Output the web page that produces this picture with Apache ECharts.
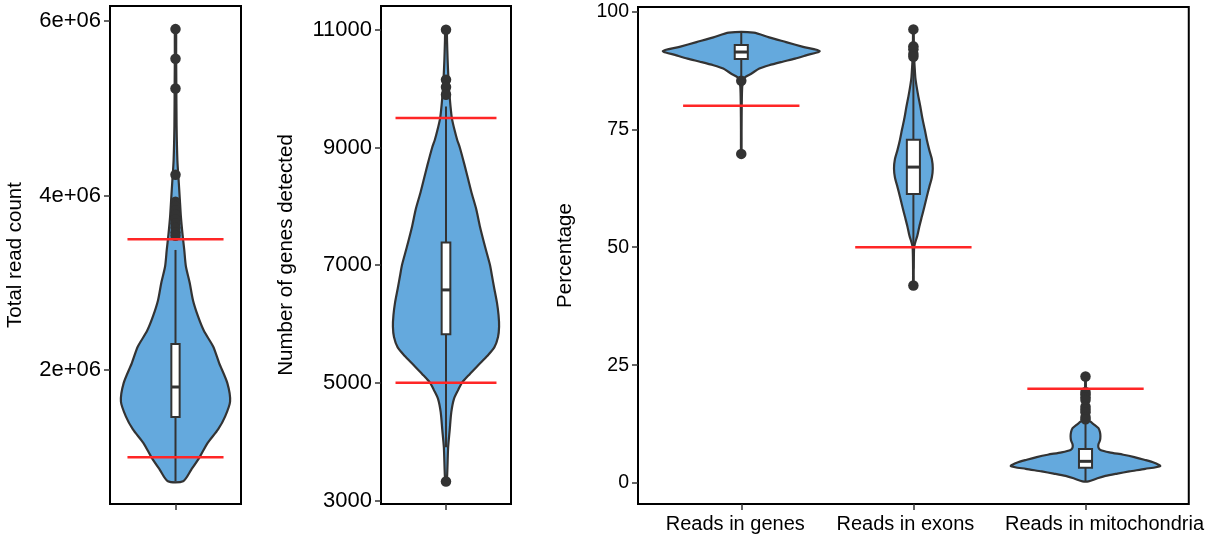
<!DOCTYPE html>
<html lang="en">
<head>
    <meta charset="utf-8">
    <title>QC violins</title>
    <script src="https://cdn.jsdelivr.net/npm/echarts@6/dist/echarts.min.js"></script>
</head>
<body style="margin:0">
    <div id="main" style="width:1207px;height:540px;"></div>

    <script type="text/javascript">
    // --- data ---
    // total read count
    var readValues = [726000, 860000, 1000000, 1166000, 1320000, 1470000, 1640000, 1850000, 2080000, 2270000, 2450000, 2620000, 2800000, 3000000, 3190000, 3380000, 3550000, 3750000, 3950000, 4150000, 4400000, 4800000, 5300000, 5600000, 5910000];
    var readDensity = [0.14, 0.29, 0.44, 0.59, 0.78, 0.91, 1.0, 0.95, 0.80, 0.69, 0.52, 0.41, 0.32, 0.26, 0.19, 0.16, 0.13, 0.10, 0.08, 0.06, 0.035, 0.02, 0.015, 0.012, 0.01];
    var readBox = [726000, 1463000, 1806000, 2299000, 3377000];
    var readOutliers = [5908000, 5568000, 5228000, 4239000, 3930000, 3880000, 3830000, 3780000, 3730000, 3680000, 3630000, 3580000, 3540000];
    var readCuts = [1000000, 3500000];

    // number of genes detected
    var geneValues = [3323, 3900, 4200, 4500, 4726, 4880, 5000, 5150, 5310, 5450, 5602, 5780, 5955, 6150, 6363, 6600, 6850, 7000, 7300, 7654, 7950, 8235, 8450, 8700, 9000, 9132, 9300, 9500, 9700, 9900, 10150, 10500, 10800, 11000];
    var geneDensity = [0.015, 0.04, 0.07, 0.10, 0.15, 0.23, 0.30, 0.45, 0.62, 0.77, 0.91, 0.98, 1.0, 0.99, 0.96, 0.91, 0.86, 0.83, 0.74, 0.64, 0.57, 0.48, 0.42, 0.35, 0.26, 0.21, 0.16, 0.11, 0.085, 0.066, 0.047, 0.03, 0.02, 0.012];
    var geneBox = [3905, 5825, 6579, 7386, 9698];
    var geneOutliers = [11000, 10152, 10027, 9897, 3321];
    var geneCuts = [5000, 9500];

    // percentages
    var pctCategories = ['Reads in genes', 'Reads in exons', 'Reads in mitochondria'];

    var inGenesValues = [69.6, 75, 80, 84, 85.5, 86.1, 86.8, 87.9, 88.6, 89.35, 90.0, 90.7, 91.6, 92.5, 93.5, 94.5, 95.5];
    var inGenesDensity = [0.003, 0.004, 0.006, 0.012, 0.03, 0.05, 0.127, 0.23, 0.355, 0.527, 0.685, 0.825, 1.0, 0.787, 0.571, 0.355, 0.159];
    var inGenesBox = [85.6, 89.9, 91.4, 92.9, 95.5];
    var inGenesOutliers = [85.3, 69.8];

    var inExonsValues = [41.9, 45, 48, 50, 50.8, 52.5, 54.4, 56.5, 58.6, 60.7, 62.8, 64.8, 66.7, 68.7, 70.6, 72.8, 74.9, 77.4, 79.8, 82, 84, 86, 88, 90, 93, 96.2];
    var inExonsDensity = [0.003, 0.004, 0.006, 0.01, 0.02, 0.051, 0.076, 0.108, 0.14, 0.171, 0.203, 0.235, 0.247, 0.235, 0.203, 0.171, 0.146, 0.114, 0.089, 0.063, 0.042, 0.025, 0.017, 0.01, 0.006, 0.003];
    var inExonsBox = [45.5, 61.3, 67.0, 72.8, 89.6];
    var inExonsOutliers = [96.2, 92.6, 92.0, 91.0, 90.4, 41.9];

    var inMitoValues = [0.34, 1.0, 1.5, 2.0, 2.46, 3.0, 3.6, 4.3, 4.94, 5.5, 6.0, 6.5, 7.0, 7.5, 8.2, 9.0, 9.9, 10.8, 11.65, 12.35, 13.0, 13.4, 14.5, 16, 18, 20, 22.6];
    var inMitoDensity = [0.038, 0.152, 0.254, 0.406, 0.558, 0.761, 0.952, 0.876, 0.749, 0.622, 0.482, 0.305, 0.19, 0.165, 0.165, 0.184, 0.19, 0.184, 0.165, 0.114, 0.063, 0.035, 0.02, 0.012, 0.008, 0.005, 0.003];
    var inMitoBox = [0.34, 3.25, 4.6, 7.2, 13.0];
    var inMitoOutliers = [22.6, 19.3, 18.8, 18.2, 17.6, 16.2, 15.6, 15.0, 14.0, 13.5];

    var pctCuts = [80, 50, 20];

    // --- styles ---
    var FONT = '"Liberation Sans", Arial, sans-serif';
    var FILL = '#64a9dd';
    var INK = '#333333';
    var RED = '#ff2626';

    var myChart = echarts.init(document.getElementById('main'));

    // one panel = list of violins on a value x axis (category i sits at x = i + 1)
    var panels = [
        { violins: [{ v: readValues, d: readDensity, box: readBox, out: readOutliers }],
          cuts: [[1, readCuts[0]], [1, readCuts[1]]], half: 0.5, boxHalf: 0.038, cutHalf: 0.44 },
        { violins: [{ v: geneValues, d: geneDensity, box: geneBox, out: geneOutliers }],
          cuts: [[1, geneCuts[0]], [1, geneCuts[1]]], half: 0.49, boxHalf: 0.04, cutHalf: 0.466 },
        { violins: [
            { v: inGenesValues, d: inGenesDensity, box: inGenesBox, out: inGenesOutliers },
            { v: inExonsValues, d: inExonsDensity, box: inExonsBox, out: inExonsOutliers },
            { v: inMitoValues, d: inMitoDensity, box: inMitoBox, out: inMitoOutliers }],
          cuts: pctCuts.map(function (c, i) { return [i + 1, c]; }), half: 0.456, boxHalf: 0.038, cutHalf: 0.338 }
    ];

    var violinRender = function (panel) {
        return function (params, api) {
            var vi = panel.violins[params.dataIndex];
            var pos = params.dataIndex + 1;
            var pts = [], i;
            for (i = 0; i < vi.v.length; i++) pts.push(api.coord([pos - vi.d[i] * panel.half, vi.v[i]]));
            for (i = vi.v.length - 1; i >= 0; i--) pts.push(api.coord([pos + vi.d[i] * panel.half, vi.v[i]]));
            var b = vi.box;
            var lo = api.coord([pos, b[0]]), hi = api.coord([pos, b[4]]);
            var q1l = api.coord([pos - panel.boxHalf, b[1]]), q3r = api.coord([pos + panel.boxHalf, b[3]]);
            var mL = api.coord([pos - panel.boxHalf, b[2]]), mR = api.coord([pos + panel.boxHalf, b[2]]);
            return {
                type: 'group',
                children: [
                    { type: 'polygon', shape: { points: pts, smooth: 0.25 },
                      style: { fill: FILL, stroke: INK, lineWidth: 2.2 } },
                    { type: 'line', shape: { x1: lo[0], y1: lo[1], x2: hi[0], y2: hi[1] },
                      style: { stroke: INK, lineWidth: 2 } },
                    { type: 'rect', shape: { x: q1l[0], y: q3r[1], width: q3r[0] - q1l[0], height: q1l[1] - q3r[1] },
                      style: { fill: '#fff', stroke: INK, lineWidth: 2 } },
                    { type: 'line', shape: { x1: mL[0], y1: mL[1], x2: mR[0], y2: mR[1] },
                      style: { stroke: INK, lineWidth: 3 } }
                ]
            };
        };
    };

    var cutRender = function (panel) {
        return function (params, api) {
            var x = api.value(0), y = api.value(1);
            var a = api.coord([x - panel.cutHalf, y]), b = api.coord([x + panel.cutHalf, y]);
            return { type: 'line', shape: { x1: a[0], y1: a[1], x2: b[0], y2: b[1] },
                     style: { stroke: RED, lineWidth: 2.5 } };
        };
    };

    var grids = [
        { left: 110, top: 6, width: 131, height: 498 },
        { left: 381, top: 6, width: 130, height: 498 },
        { left: 638, top: 7, width: 553, height: 497 }
    ].map(function (g) {
        g.show = true; g.borderColor = '#000'; g.borderWidth = 2; g.backgroundColor = '#fff';
        return g;
    });

    // the category labels sit a little off their ticks in the original
    var labelStyle = { fontSize: 20, fontFamily: FONT, color: '#000' };
    var catRich = {
        c0: Object.assign({ padding: [0, 12, 0, 0] }, labelStyle),
        c1: Object.assign({ padding: [0, 16, 0, 0] }, labelStyle),
        c2: Object.assign({ padding: [0, 0, 0, 38] }, labelStyle)
    };

    var xAxes = panels.map(function (p, i) {
        var n = p.violins.length;
        var ticks = p.violins.map(function (v, j) { return j + 1; });
        return {
            type: 'value', gridIndex: i, min: 0.4, max: n + 0.6,
            splitLine: { show: false }, axisLine: { show: false, onZero: false },
            axisTick: { show: true, customValues: ticks, length: 6, lineStyle: { color: INK, width: 1.5 } },
            axisLabel: {
                customValues: ticks, margin: 10, color: '#000', fontSize: 20, fontFamily: FONT, rich: catRich,
                formatter: function (v) {
                    var k = Math.round(v) - 1;
                    return i === 2 && pctCategories[k] ? '{c' + k + '|' + pctCategories[k] + '}' : '';
                }
            }
        };
    });

    var yBase = {
        type: 'value', splitLine: { show: false }, axisLine: { show: false, onZero: false },
        nameLocation: 'middle', nameTextStyle: { color: '#000', fontSize: 20.5, fontFamily: FONT }
    };
    var yAxes = [
        { gridIndex: 0, min: 465000, max: 6173000, name: 'Total read count', nameGap: 84, size: 22,
          ticks: [2000000, 4000000, 6000000], fmt: function (v) { return Math.round(v / 1e6) + 'e+06'; } },
        { gridIndex: 1, min: 2940, max: 11405, name: 'Number of genes detected', nameGap: 84, size: 22,
          ticks: [3000, 5000, 7000, 9000, 11000], fmt: function (v) { return String(v); } },
        { gridIndex: 2, min: -4.45, max: 100.95, name: 'Percentage', nameGap: 62, size: 19.5,
          ticks: [0, 25, 50, 75, 100], fmt: function (v) { return String(v); } }
    ].map(function (a) {
        return Object.assign({}, yBase, {
            gridIndex: a.gridIndex, min: a.min, max: a.max, name: a.name, nameGap: a.nameGap,
            axisTick: { show: true, customValues: a.ticks, length: 6, lineStyle: { color: INK, width: 1.5 } },
            axisLabel: { customValues: a.ticks, margin: 9, color: '#000', fontSize: a.size, fontFamily: FONT, formatter: a.fmt }
        });
    });

    var series = [];
    panels.forEach(function (p, i) {
        series.push({
            type: 'custom', xAxisIndex: i, yAxisIndex: i, z: 2, clip: false,
            renderItem: violinRender(p),
            data: p.violins.map(function (v, j) { return [j + 1, v.box[2]]; })
        });
        var pts = [];
        p.violins.forEach(function (v, j) {
            v.out.forEach(function (o) { pts.push([j + 1, o]); });
        });
        series.push({
            type: 'scatter', xAxisIndex: i, yAxisIndex: i, z: 3, symbolSize: 10.5,
            itemStyle: { color: INK, opacity: 1 }, data: pts
        });
        series.push({
            type: 'custom', xAxisIndex: i, yAxisIndex: i, z: 4,
            renderItem: cutRender(p), data: p.cuts
        });
    });

    myChart.setOption({
        animation: false,
        backgroundColor: '#fff',
        grid: grids,
        xAxis: xAxes,
        yAxis: yAxes,
        series: series
    });
    </script>
</body>
</html>
